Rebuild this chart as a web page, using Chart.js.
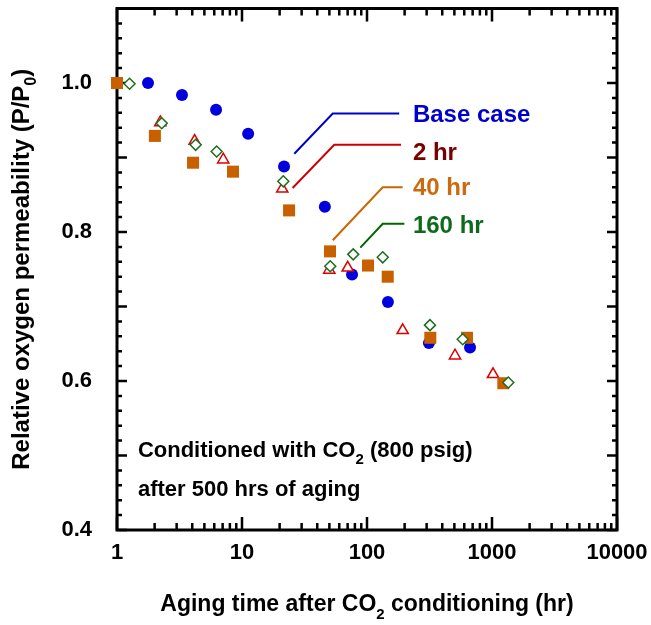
<!DOCTYPE html>
<html>
<head>
<meta charset="utf-8">
<script src="https://cdn.jsdelivr.net/npm/chart.js@4"></script>
<style>
body{margin:0;background:#fff}
#wrap{width:651px;height:625px}
</style>
</head>
<body>
<div id="wrap"><canvas id="permchart"></canvas></div>
<script>
// aging time after CO2 conditioning (hr) and relative permeability P/P0
var baseTime = [1.77, 3.31, 6.2, 11.2, 21.7, 46, 75.9, 147, 313, 667]
var baseVal  = [1.0, 0.984, 0.964, 0.932, 0.888, 0.834, 0.743, 0.706, 0.651, 0.645]
var hr2Time = [2.22, 4.18, 7.08, 21, 49.9, 70.1, 193, 506, 1019]
var hr2Val  = [0.947, 0.922, 0.897, 0.858, 0.749, 0.752, 0.668, 0.634, 0.609]
var hr40Time = [1, 2.01, 4.06, 8.47, 23.8, 50.6, 101.9, 146.5, 321, 631, 1232]
var hr40Val  = [1.0, 0.929, 0.893, 0.881, 0.829, 0.774, 0.755, 0.740, 0.658, 0.658, 0.597]
var hr160Time = [1.26, 2.28, 4.26, 6.27, 21.4, 50.8, 77.6, 133.6, 319, 583, 1350]
var hr160Val  = [0.999, 0.946, 0.917, 0.908, 0.868, 0.754, 0.770, 0.766, 0.675, 0.656, 0.598]

// labels with callout lines (data coords)
var labelNames = ['Base case', '2 hr', '40 hr', '160 hr']
var calloutTime = [[26.2, 53.2, 181], [25.4, 54.7, 187], [53.2, 133.6, 193], [88.4, 133.6, 199]]
var calloutVal  = [[0.905, 0.959, 0.959], [0.859, 0.917, 0.917], [0.789, 0.860, 0.860], [0.779, 0.811, 0.811]]
var labelTime = 233
var labelVal = [0.957, 0.906, 0.859, 0.808]
var noteTime = 1.47
var noteVal = [0.5065, 0.454]

var lineColors = ['#0000cc', '#cc0000', '#cc6600', '#006600']
var textColors = ['#0000cc', '#7a0000', '#cc6a10', '#0e6b1e']
var FONT = '"Liberation Sans", Arial, sans-serif'

function pairs(xs, ys) {
    var out = []
    for (var i = 0; i < xs.length; i++) out.push({x: xs[i], y: ys[i]})
    return out
}

// text with subscripts: parts = [[str, isSub], ...]
function drawRich(ctx, parts, x, y, size, color, align) {
    var subSize = Math.round(size * 0.66)
    var total = 0
    for (var i = 0; i < parts.length; i++) {
        ctx.font = 'bold ' + (parts[i][1] ? subSize : size) + 'px ' + FONT
        total += ctx.measureText(parts[i][0]).width
    }
    var cx = align == 'center' ? x - total / 2 : x
    ctx.fillStyle = color
    ctx.textAlign = 'left'
    ctx.textBaseline = 'middle'
    for (var i = 0; i < parts.length; i++) {
        ctx.font = 'bold ' + (parts[i][1] ? subSize : size) + 'px ' + FONT
        ctx.fillText(parts[i][0], cx, parts[i][1] ? y + size * 0.42 : y)
        cx += ctx.measureText(parts[i][0]).width
    }
}

var frameplugin = {
    id: 'frame',
    beforeDatasetsDraw: function (chart) {
        var ctx = chart.ctx, a = chart.chartArea
        var xs = chart.scales.x, ys = chart.scales.y
        ctx.save()
        ctx.strokeStyle = '#000'
        ctx.lineWidth = 2.5
        ctx.beginPath()
        ys.ticks.forEach(function (t) {
            var py = ys.getPixelForValue(t.value)
            var len = Math.round(t.value * 100) % 10 == 0 ? 10 : 5
            ctx.moveTo(a.left, py); ctx.lineTo(a.left + len, py)
            ctx.moveTo(a.right, py); ctx.lineTo(a.right - len, py)
        })
        for (var d = 1; d <= 1000; d *= 10) {
            for (var m = 1; m <= 10; m++) {
                var px = xs.getPixelForValue(m * d)
                var len = (m == 1 || m == 10) ? 13 : 7
                ctx.moveTo(px, a.bottom); ctx.lineTo(px, a.bottom - len)
                ctx.moveTo(px, a.top); ctx.lineTo(px, a.top + len)
            }
        }
        ctx.stroke()
        ctx.lineWidth = 3
        ctx.strokeRect(a.left, a.top, a.right - a.left, a.bottom - a.top)
        ctx.restore()
    },
    afterDatasetsDraw: function (chart) {
        var ctx = chart.ctx, a = chart.chartArea
        var xs = chart.scales.x, ys = chart.scales.y
        ctx.save()
        for (var i = 0; i < labelNames.length; i++) {
            drawRich(ctx, [[labelNames[i], 0]], xs.getPixelForValue(labelTime), ys.getPixelForValue(labelVal[i]), 24, textColors[i], 'left')
        }
        var nx = xs.getPixelForValue(noteTime)
        drawRich(ctx, [['Conditioned with CO', 0], ['2', 1], [' (800 psig)', 0]], nx, ys.getPixelForValue(noteVal[0]), 22, '#000', 'left')
        drawRich(ctx, [['after 500 hrs of aging', 0]], nx, ys.getPixelForValue(noteVal[1]), 22, '#000', 'left')
        // axis titles
        drawRich(ctx, [['Aging time after CO', 0], ['2', 1], [' conditioning (hr)', 0]], (a.left + a.right) / 2, a.bottom + 75, 23, '#000', 'center')
        ctx.translate(22, (a.top + a.bottom) / 2)
        ctx.rotate(-Math.PI / 2)
        drawRich(ctx, [['Relative oxygen permeability (P/P', 0], ['0', 1], [')', 0]], 0, 0, 24, '#000', 'center')
        ctx.restore()
    }
}

var datasets = [
    {label: '160 hr', data: pairs(hr160Time, hr160Val), pointStyle: 'rectRot', pointRadius: 5.5,
     pointBackgroundColor: '#fff', pointBorderColor: '#1e6e1e', pointBorderWidth: 1.5, order: 1, clip: false},
    {label: '40 hr', data: pairs(hr40Time, hr40Val), pointStyle: 'rect', pointRadius: 8.5,
     pointBackgroundColor: '#c86000', pointBorderColor: '#c86000', pointBorderWidth: 0, order: 2, clip: false},
    {label: '2 hr', data: pairs(hr2Time, hr2Val), pointStyle: 'triangle', pointRadius: 6.5,
     pointBackgroundColor: '#fff', pointBorderColor: '#dd0000', pointBorderWidth: 1.5, order: 3, clip: false},
    {label: 'Base case', data: pairs(baseTime, baseVal), pointStyle: 'circle', pointRadius: 6,
     pointBackgroundColor: '#0000dd', pointBorderColor: '#0000dd', pointBorderWidth: 0, order: 4, clip: false}
]
for (var i = 0; i < labelNames.length; i++) {
    datasets.push({label: labelNames[i] + ' callout', data: pairs(calloutTime[i], calloutVal[i]), showLine: true,
        borderColor: lineColors[i], borderWidth: 2, pointRadius: 0, fill: false, order: 5})
}

var config = {
    type: 'scatter',
    data: {datasets: datasets},
    options: {
        responsive: true,
        maintainAspectRatio: false,
        animation: false,
        layout: {padding: {top: 8, right: 34, left: 0, bottom: 0}},
        plugins: {legend: {display: false}, tooltip: {enabled: false}},
        scales: {
            x: {
                type: 'logarithmic', min: 1, max: 10000,
                grid: {display: false}, border: {display: false},
                ticks: {
                    autoSkip: false, maxRotation: 0, padding: 2, color: '#000',
                    font: {family: FONT, size: 22, weight: 'bold'},
                    callback: function (v) {
                        var e = Math.log10(v)
                        return Math.abs(e - Math.round(e)) < 1e-9 ? String(v) : ''
                    }
                },
                afterFit: function (s) { s.height = 95; s.paddingLeft = 0; s.paddingRight = 0 }
            },
            y: {
                min: 0.4, max: 1.1,
                grid: {display: false}, border: {display: false},
                ticks: {
                    stepSize: 0.02, autoSkip: false, padding: 17, color: '#000',
                    font: {family: FONT, size: 22, weight: 'bold'},
                    callback: function (v) {
                        var k = Math.round(v * 100)
                        return (k % 20 == 0 && k >= 40 && k <= 100) ? v.toFixed(1) : ''
                    }
                },
                afterFit: function (s) { s.width = 117; s.paddingTop = 0; s.paddingBottom = 0 }
            }
        }
    },
    plugins: [frameplugin]
}

var permchart = new Chart(document.getElementById('permchart').getContext('2d'), config)
</script>
</body>
</html>
